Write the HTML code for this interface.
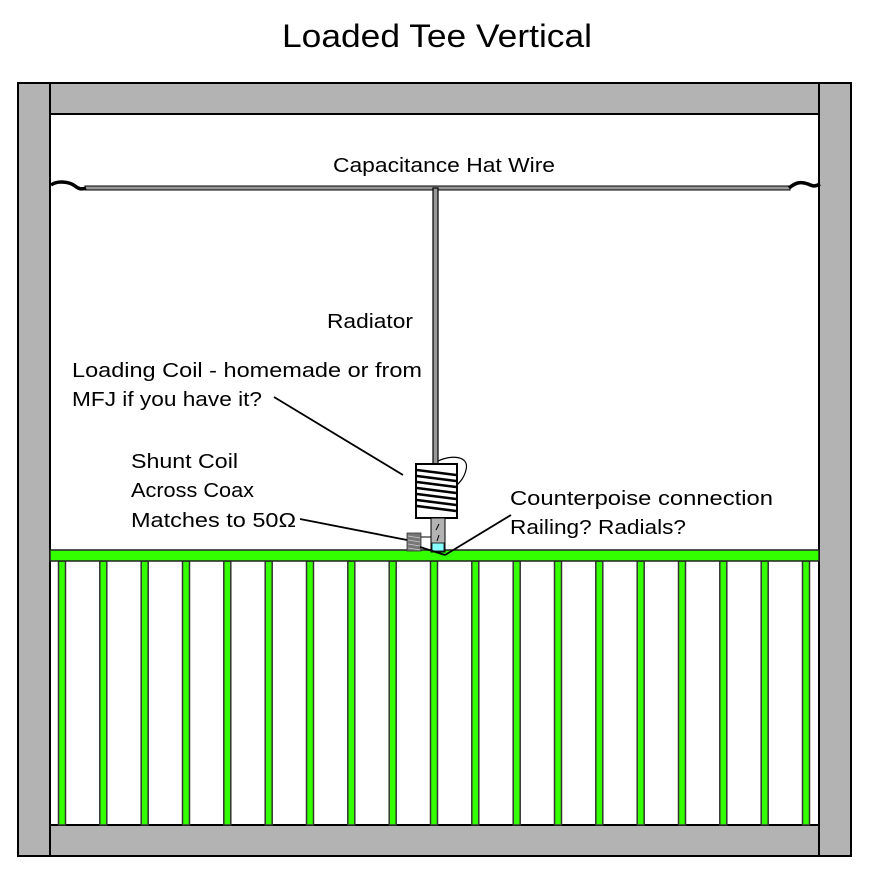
<!DOCTYPE html>
<html><head><meta charset="utf-8"><style>html,body{margin:0;padding:0;background:#fff}svg{display:block}</style></head><body>
<svg width="877" height="873" viewBox="0 0 877 873" xmlns="http://www.w3.org/2000/svg" font-family="Liberation Sans, sans-serif">
<rect width="877" height="873" fill="#fff"/>
<text x="437" y="47" font-size="32" text-anchor="middle" textLength="310" lengthAdjust="spacingAndGlyphs">Loaded Tee Vertical</text>
<g stroke="#000" stroke-width="2" fill="#b3b3b3">
<rect x="50" y="83" width="769" height="31"/>
<rect x="50" y="825" width="769" height="31"/>
<rect x="18" y="83" width="32" height="773"/>
<rect x="819" y="83" width="32" height="773"/>
</g>
<g stroke="#333" stroke-width="1.5" fill="#33ff00">
<rect x="58.5" y="561" width="7" height="264"/><rect x="99.8" y="561" width="7" height="264"/><rect x="141.2" y="561" width="7" height="264"/><rect x="182.5" y="561" width="7" height="264"/><rect x="223.8" y="561" width="7" height="264"/><rect x="265.2" y="561" width="7" height="264"/><rect x="306.5" y="561" width="7" height="264"/><rect x="347.8" y="561" width="7" height="264"/><rect x="389.2" y="561" width="7" height="264"/><rect x="430.5" y="561" width="7" height="264"/><rect x="471.8" y="561" width="7" height="264"/><rect x="513.2" y="561" width="7" height="264"/><rect x="554.5" y="561" width="7" height="264"/><rect x="595.8" y="561" width="7" height="264"/><rect x="637.2" y="561" width="7" height="264"/><rect x="678.5" y="561" width="7" height="264"/><rect x="719.8" y="561" width="7" height="264"/><rect x="761.2" y="561" width="7" height="264"/><rect x="802.5" y="561" width="7" height="264"/>
</g>
<rect x="50" y="550" width="769" height="11" fill="#33ff00" stroke="#222" stroke-width="1.5"/>
<rect x="85" y="186" width="705" height="4" fill="#999" stroke="#000" stroke-width="1"/>
<path d="M51 185 C58 180,70 182,75 186 C80 190,83 189,86 188" stroke="#000" stroke-width="3.5" fill="none"/>
<path d="M789 188 C795 183,800 181,808 184 C814 187,816 186,820 184" stroke="#000" stroke-width="3.5" fill="none"/>
<rect x="433" y="188" width="5" height="276" fill="#999" stroke="#000" stroke-width="1.2"/>
<path d="M438 461 C450 455,470 455,466 470 C464 478,460 482,457 485" stroke="#000" stroke-width="1.2" fill="none"/>
<rect x="416" y="464" width="41" height="54" fill="#fff" stroke="#000" stroke-width="2"/>
<g stroke="#000" stroke-width="2.6">
<line x1="417" y1="470" x2="456" y2="475"/><line x1="417" y1="476" x2="456" y2="481"/><line x1="417" y1="482" x2="456" y2="487"/><line x1="417" y1="488" x2="456" y2="493"/><line x1="417" y1="494" x2="456" y2="499"/><line x1="417" y1="500" x2="456" y2="505"/><line x1="417" y1="506" x2="456" y2="511"/>
</g>
<rect x="431" y="518" width="14" height="34" fill="#b3b3b3" stroke="#000" stroke-width="1"/>
<rect x="432" y="543" width="12" height="8" fill="#8ff" stroke="#000" stroke-width="0.8"/>
<path d="M436 530 l3 -6 M437 541 l2 -6" stroke="#000" stroke-width="1"/>
<line x1="421" y1="537" x2="431" y2="537" stroke="#000" stroke-width="1"/>
<rect x="407" y="533" width="14" height="18" fill="#777" stroke="#333" stroke-width="0.8"/>
<g stroke="#ccc" stroke-width="0.8"><line x1="408" y1="536" x2="420" y2="538"/><line x1="408" y1="540" x2="420" y2="542"/><line x1="408" y1="544" x2="420" y2="546"/><line x1="408" y1="548" x2="420" y2="550"/></g>
<g stroke="#000" stroke-width="1.8">
<line x1="274" y1="397" x2="403" y2="475"/>
<line x1="300" y1="519" x2="407" y2="540"/>
<line x1="511" y1="515" x2="445" y2="555"/>
<line x1="420" y1="547" x2="445" y2="555"/>
</g>
<g font-size="20" fill="#000">
<text x="333" y="172" textLength="222" lengthAdjust="spacingAndGlyphs">Capacitance Hat Wire</text>
<text x="327" y="328" textLength="86" lengthAdjust="spacingAndGlyphs">Radiator</text>
<text x="72" y="377" textLength="350" lengthAdjust="spacingAndGlyphs">Loading Coil - homemade or from</text>
<text x="72" y="406" textLength="190" lengthAdjust="spacingAndGlyphs">MFJ if you have it?</text>
<text x="131" y="468" textLength="107" lengthAdjust="spacingAndGlyphs">Shunt Coil</text>
<text x="131" y="497" textLength="123" lengthAdjust="spacingAndGlyphs">Across Coax</text>
<text x="131" y="527" textLength="165" lengthAdjust="spacingAndGlyphs">Matches to 50Ω</text>
<text x="510" y="505" textLength="263" lengthAdjust="spacingAndGlyphs">Counterpoise connection</text>
<text x="510" y="534" textLength="176" lengthAdjust="spacingAndGlyphs">Railing?  Radials?</text>
</g>
</svg>
</body></html>
